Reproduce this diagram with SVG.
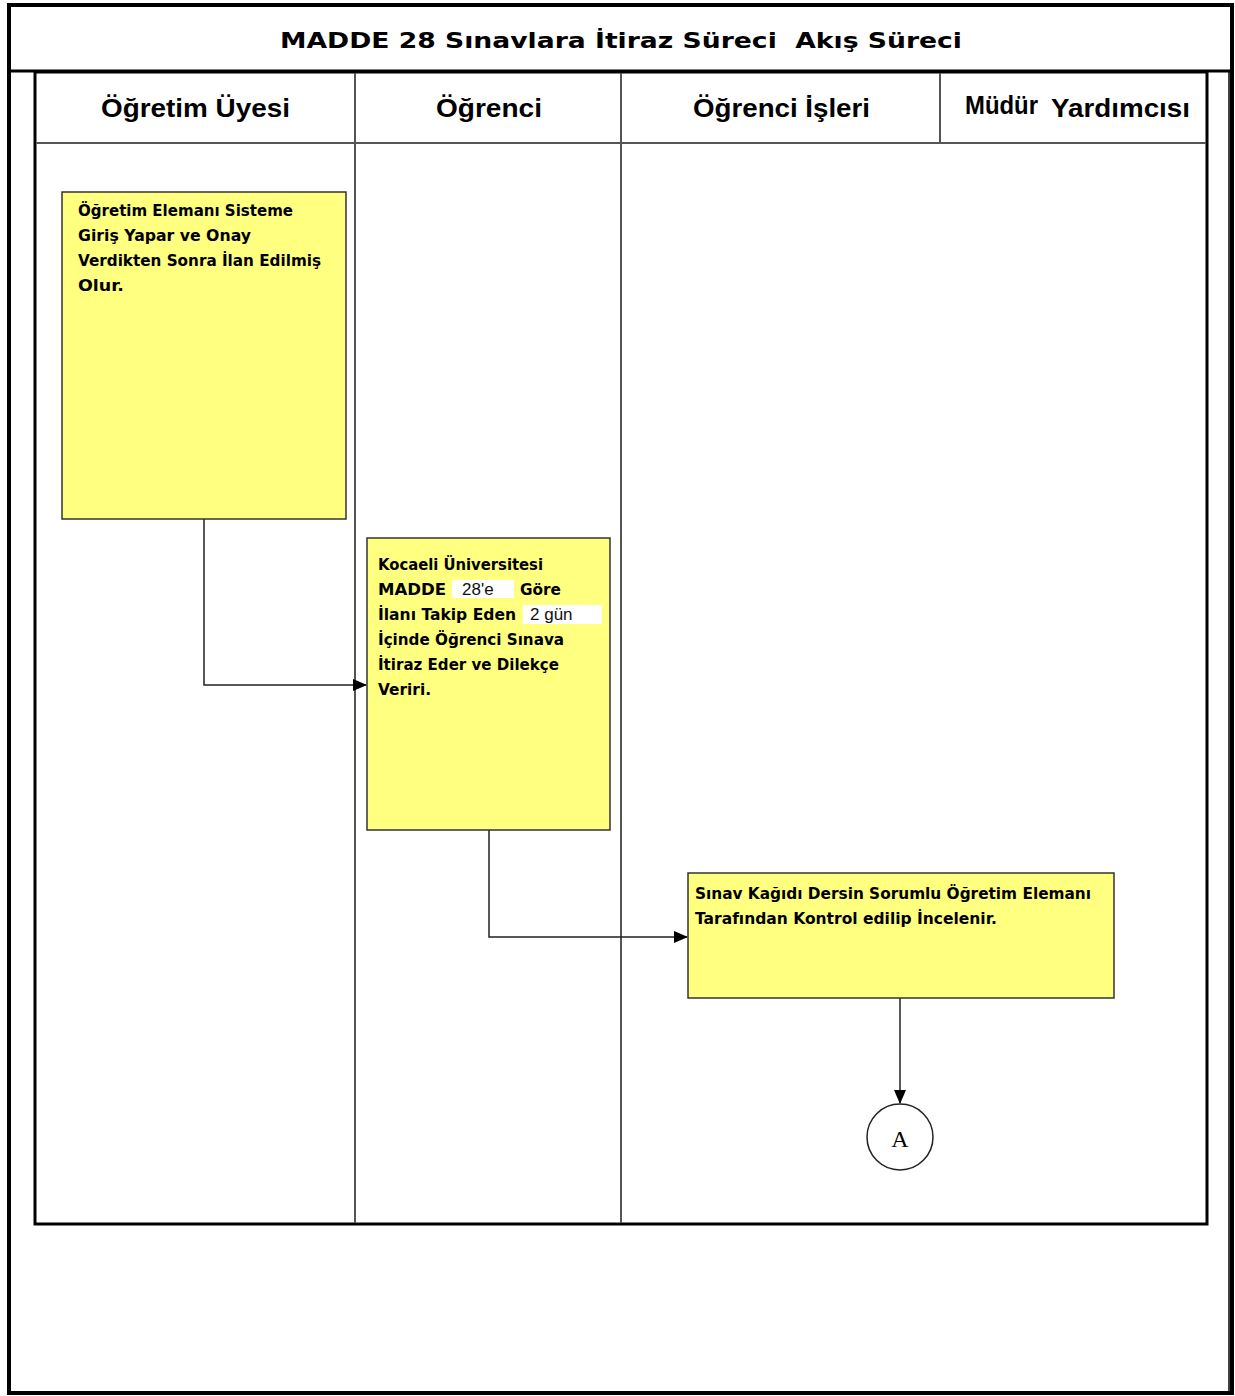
<svg xmlns="http://www.w3.org/2000/svg" width="1235" height="1396" viewBox="0 0 1235 1396">
<style>
.frame{fill:none;stroke:#000}
.grid{stroke:#555;stroke-width:2;fill:none}
.box{fill:#FFFF80;stroke:#333;stroke-width:1.5}
.conn{fill:none;stroke:#222;stroke-width:1.5}
.title{font-family:"DejaVu Sans",Verdana,sans-serif;font-weight:bold;font-size:21px;fill:#000;white-space:pre}
.hdr{font-family:"Liberation Sans",Arial,sans-serif;font-weight:bold;font-size:26px;fill:#000}
.bt{font-family:"DejaVu Sans",Tahoma,sans-serif;font-weight:bold;font-size:15px;fill:#000}
.nt{font-family:"Liberation Sans",Arial,sans-serif;font-size:17px;fill:#111}
</style>
<defs>
<marker id="arr" markerWidth="14" markerHeight="12" refX="13" refY="6" orient="auto" markerUnits="userSpaceOnUse">
<path d="M0,0 L14,6 L0,12 Z" fill="#000"/>
</marker>
</defs>
<rect width="1235" height="1396" fill="#fff"/>
<g id="frame">
<rect class="frame" x="9" y="5" width="1223" height="1388" stroke-width="4"/>
<line class="frame" x1="1229" y1="72" x2="1229" y2="1393" stroke-width="1.5"/>
<line class="frame" x1="9" y1="71" x2="1232" y2="71" stroke-width="3"/>
<text class="title" x="621" y="48" text-anchor="middle" xml:space="preserve" textLength="682" lengthAdjust="spacingAndGlyphs">MADDE 28 Sınavlara İtiraz Süreci  Akış Süreci</text>
</g>
<g id="lanes">
<rect class="frame" x="35" y="72" width="1172" height="1152" stroke-width="3"/>
<line class="grid" x1="36" y1="143" x2="1206" y2="143"/>
<line class="grid" x1="355" y1="73" x2="355" y2="1223"/>
<line class="grid" x1="621" y1="73" x2="621" y2="1223"/>
<line class="grid" x1="940" y1="73" x2="940" y2="143"/>
<text class="hdr" x="101" y="117" textLength="189" lengthAdjust="spacingAndGlyphs">Öğretim Üyesi</text>
<text class="hdr" x="436" y="117" textLength="106" lengthAdjust="spacingAndGlyphs">Öğrenci</text>
<text class="hdr" x="693" y="117" textLength="177" lengthAdjust="spacingAndGlyphs">Öğrenci İşleri</text>
<text class="hdr" x="965" y="114" font-size="20" textLength="73" lengthAdjust="spacingAndGlyphs">Müdür</text>
<text class="hdr" x="1051" y="117" textLength="139" lengthAdjust="spacingAndGlyphs">Yardımcısı</text>
</g>
<g id="connectors">
<polyline class="conn" points="204,519 204,685 366,685" marker-end="url(#arr)"/>
<polyline class="conn" points="489,830 489,937 687,937" marker-end="url(#arr)"/>
<polyline class="conn" points="900,998 900,1103" marker-end="url(#arr)"/>
</g>
<g id="n1">
<rect class="box" x="62" y="192" width="284" height="327"/>
<text class="bt" x="78" y="216" textLength="215" lengthAdjust="spacingAndGlyphs">Öğretim Elemanı Sisteme</text>
<text class="bt" x="78" y="241" textLength="173" lengthAdjust="spacingAndGlyphs">Giriş Yapar ve Onay</text>
<text class="bt" x="78" y="266" textLength="243" lengthAdjust="spacingAndGlyphs">Verdikten Sonra İlan Edilmiş</text>
<text class="bt" x="78" y="291" textLength="46" lengthAdjust="spacingAndGlyphs">Olur.</text>
</g>
<g id="n2">
<rect class="box" x="367" y="538" width="243" height="292"/>
<rect x="452" y="580" width="62" height="18" fill="#fff"/>
<rect x="523" y="605" width="79" height="19" fill="#fff"/>
<text class="bt" x="378" y="570" textLength="165" lengthAdjust="spacingAndGlyphs">Kocaeli Üniversitesi</text>
<text class="bt" x="378" y="595" textLength="68" lengthAdjust="spacingAndGlyphs">MADDE</text>
<text class="nt" x="462" y="595">28'e</text>
<text class="bt" x="520" y="595" textLength="41" lengthAdjust="spacingAndGlyphs">Göre</text>
<text class="bt" x="378" y="620" textLength="138" lengthAdjust="spacingAndGlyphs">İlanı Takip Eden</text>
<text class="nt" x="530" y="620">2 gün</text>
<text class="bt" x="378" y="645" textLength="186" lengthAdjust="spacingAndGlyphs">İçinde Öğrenci Sınava</text>
<text class="bt" x="378" y="670" textLength="181" lengthAdjust="spacingAndGlyphs">İtiraz Eder ve Dilekçe</text>
<text class="bt" x="378" y="695" textLength="53" lengthAdjust="spacingAndGlyphs">Veriri.</text>
</g>
<g id="n3">
<rect class="box" x="688" y="873" width="426" height="125"/>
<text class="bt" x="695" y="899" textLength="396" lengthAdjust="spacingAndGlyphs">Sınav Kağıdı Dersin Sorumlu Öğretim Elemanı</text>
<text class="bt" x="695" y="924" textLength="302" lengthAdjust="spacingAndGlyphs">Tarafından Kontrol edilip İncelenir.</text>
</g>
<g id="connectorA">
<circle cx="900" cy="1137" r="33" fill="#fff" stroke="#222" stroke-width="1.5"/>
<text x="900" y="1147" text-anchor="middle" font-family="Liberation Serif,Times New Roman,serif" font-size="24" fill="#000">A</text>
</g>
</svg>
